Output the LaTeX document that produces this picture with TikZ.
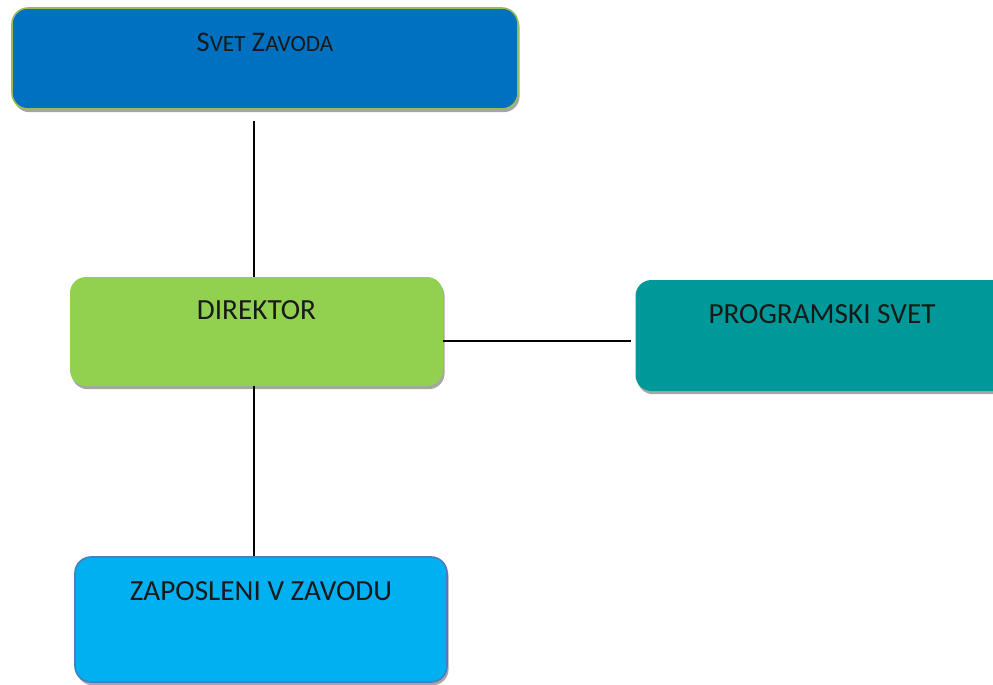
\documentclass[tikz,border=0pt]{standalone}
\usepackage{fontspec}
\setmainfont{Carlito}
\usetikzlibrary{shadows}
\definecolor{SvetBlue}{HTML}{0070C0}
\definecolor{SvetRim}{HTML}{9BBB59}
\definecolor{DirGreen}{HTML}{92D050}
\definecolor{ProgTeal}{HTML}{009999}
\definecolor{ZapBlue}{HTML}{00B0F0}
\definecolor{ZapRim}{HTML}{4A7EBB}

\begin{document}
\begin{tikzpicture}[
        x=0.5pt, y=-0.5pt,
        orgbox/.style={rounded corners=8pt, inner sep=0pt, align=center,
          font=\fontsize{14.6pt}{17pt}\selectfont, text=black!90,
          drop shadow={shadow xshift=0.8pt, shadow yshift=-1.6pt, fill=gray!70, opacity=1}},
        link/.style={line width=1.1pt, draw=black}
      ]
        \clip (0,0) rectangle (993,685);
        \node[orgbox, fill=SvetBlue, draw=SvetRim, line width=0.8pt,
          minimum width=253pt, text height=21.5pt, text depth=29pt]
          (svet) at (265,58.5) {\fontsize{14.2pt}{16pt}\selectfont S{\fontsize{11.6pt}{13pt}\selectfont VET} Z{\fontsize{11.6pt}{13pt}\selectfont AVODA}};
        \node[orgbox, fill=DirGreen,
          minimum width=186.5pt, text height=21pt, text depth=33.5pt]
          (dir) at (256.5,331.5) {DIREKTOR};
        \node[orgbox, fill=ProgTeal,
          minimum width=186.5pt, text height=21.5pt, text depth=34pt]
          (prog) at (822,335.5) {PROGRAMSKI SVET};
        \node[orgbox, fill=ZapBlue, draw=ZapRim, line width=0.8pt,
          minimum width=186pt, text height=21.5pt, text depth=41pt]
          (zap) at (261,619.5) {ZAPOSLENI V ZAVODU};
        \draw[link, shorten <=5.5pt] ([xshift=-1.25pt]svet.south -| dir.north) -- ([xshift=-1.25pt]dir.north);
        \draw[link] ([xshift=-1.25pt]dir.south) -- ([xshift=-1.25pt]dir.south |- zap.north);
        \draw[link, shorten >=2pt] ([yshift=-4.75pt]dir.east) -- ([yshift=-4.75pt]dir.east -| prog.west);
      \end{tikzpicture}
\end{document}
